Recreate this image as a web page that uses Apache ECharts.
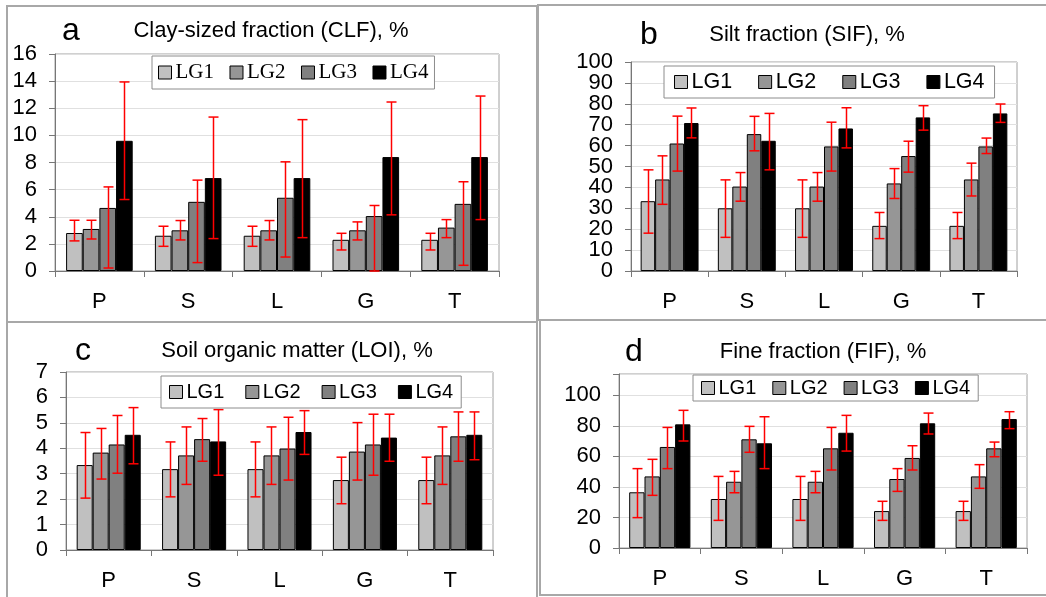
<!DOCTYPE html>
<html><head><meta charset="utf-8">
<script src="https://cdn.jsdelivr.net/npm/echarts@6/dist/echarts.min.js"></script>
<style>html,body{margin:0;padding:0;background:#fff}#c{width:1046px;height:597px}</style>
</head><body><div id="c"></div>
<script>
const categories = ['P', 'S', 'L', 'G', 'T'];
const groups = ['LG1', 'LG2', 'LG3', 'LG4'];

// a: Clay-sized fraction (CLF), %
const clfMean = [[2.8, 2.6, 2.6, 2.3, 2.3], [3.1, 3.0, 3.0, 3.0, 3.2], [4.65, 5.1, 5.4, 4.05, 4.95], [9.6, 6.85, 6.85, 8.4, 8.4]];
const clfLow  = [[2.22, 1.82, 1.82, 1.55, 1.55], [2.36, 2.29, 2.29, 2.29, 2.46], [0.22, 0.62, 1.03, 0, 0.42], [5.27, 2.39, 2.46, 4.14, 3.79]];
const clfHigh = [[3.74, 3.3, 3.3, 2.78, 2.78], [3.74, 3.72, 3.72, 3.62, 3.79], [6.2, 6.7, 8.05, 4.83, 6.58], [13.94, 11.35, 11.16, 12.46, 12.9]];
// b: Silt fraction (SIF), %
const sifMean = [[33.4, 30.0, 30.0, 21.6, 21.6], [43.8, 40.4, 40.4, 41.9, 43.8], [61.0, 65.5, 59.6, 55.0, 59.6], [70.8, 62.3, 68.2, 73.5, 75.4]];
const sifLow  = [[18.1, 16.1, 16.1, 15.5, 15.5], [31.9, 33.4, 33.4, 34.7, 35.9], [47.8, 57.5, 47.8, 47.3, 56.2], [63.7, 48.4, 58.9, 67.4, 71.1]];
const sifHigh = [[48.4, 43.6, 43.6, 28.0, 28.0], [55.1, 47.1, 47.1, 49.0, 51.6], [74.1, 74.0, 71.2, 62.1, 63.6], [78.0, 75.4, 78.1, 79.1, 79.9]];
// c: Soil organic matter (LOI), %
const loiMean = [[3.34, 3.18, 3.18, 2.75, 2.75], [3.83, 3.72, 3.72, 3.87, 3.72], [4.15, 4.36, 3.99, 4.15, 4.47], [4.53, 4.27, 4.64, 4.42, 4.53]];
const loiLow  = [[2.04, 2.09, 2.09, 1.82, 1.82], [2.79, 2.58, 2.58, 2.75, 2.58], [3.02, 3.49, 2.75, 2.94, 3.49], [3.39, 2.94, 3.76, 3.49, 3.55]];
const loiHigh = [[4.62, 4.25, 4.25, 3.65, 3.65], [4.78, 4.84, 4.84, 5.01, 4.84], [5.29, 5.17, 5.22, 5.34, 5.43], [5.6, 5.52, 5.48, 5.34, 5.43]];
// d: Fine fraction (FIF), %
const fifMean = [[36.5, 32.1, 32.1, 24.2, 24.2], [46.9, 43.4, 43.4, 45.2, 46.9], [66.2, 71.2, 65.3, 59.0, 65.3], [81.0, 68.6, 75.5, 81.7, 84.5]];
const fifLow  = [[19.9, 18.1, 18.1, 18.1, 18.1], [34.5, 36.2, 36.2, 37.1, 39.1], [52.0, 62.7, 51.1, 51.1, 59.8], [70.1, 52.0, 63.5, 74.7, 78.2]];
const fifHigh = [[52.0, 46.9, 46.9, 30.6, 30.6], [58.1, 50.2, 50.2, 52.0, 54.6], [79.0, 79.7, 79.0, 67.0, 69.4], [90.2, 86.0, 86.9, 88.4, 89.3]];

const colors = ['#c0c0c0', '#969696', '#808080', '#000000'];
const CAT_GAP = 0.25;
const FONT = 'Liberation Sans, Arial, sans-serif';

const panels = [
  {mean: clfMean, low: clfLow, high: clfHigh, grid: {left: 55, top: 54, width: 444, height: 217}, max: 16, interval: 2, split: false,
   legend: {left: 152, top: 56, padding: [6, 6], itemGap: 15.5, font: 'Liberation Serif, Times New Roman, serif', fontSize: 21}},
  {mean: sifMean, low: sifLow, high: sifHigh, grid: {left: 631, top: 62, width: 386, height: 209}, max: 100, interval: 10, split: true,
   legend: {left: 664, top: 66, padding: [5, 10], itemGap: 26, font: FONT, fontSize: 21.5}},
  {mean: loiMean, low: loiLow, high: loiHigh, grid: {left: 66, top: 372, width: 427, height: 178}, max: 7, interval: 1, split: false,
   legend: {left: 161, top: 376, padding: [6, 8], itemGap: 21, font: FONT, fontSize: 20}},
  {mean: fifMean, low: fifLow, high: fifHigh, grid: {left: 619, top: 374, width: 408, height: 174}, max: 114, interval: 20, split: false,
   legend: {left: 693, top: 375, padding: [3, 8], itemGap: 16, font: FONT, fontSize: 20}}
];

function errRender(k) {
  return function (params, api) {
    const x = api.value(0), lo = api.value(1), hi = api.value(2);
    const band = api.size([1, 0])[0];
    const bw = band * (1 - CAT_GAP) / 4;
    const off = (k - 1.5) * bw;
    const pHi = api.coord([x, hi]);
    const pLo = api.coord([x, lo]);
    const cx = Math.round(pHi[0] + off) + 0.5;
    const cap = 5;
    const st = {stroke: '#ff0000', lineWidth: 1.5};
    return {type: 'group', children: [
      {type: 'line', shape: {x1: cx, y1: pHi[1], x2: cx, y2: pLo[1]}, style: st},
      {type: 'line', shape: {x1: cx - cap, y1: pHi[1], x2: cx + cap, y2: pHi[1]}, style: st},
      {type: 'line', shape: {x1: cx - cap, y1: pLo[1], x2: cx + cap, y2: pLo[1]}, style: st}
    ]};
  };
}

const labelBase = {fontSize: 22, color: '#000', fontFamily: FONT, margin: 18, hideOverlap: false, showMinLabel: true, showMaxLabel: true};
const grids = [], xAxes = [], yAxes = [], series = [], legends = [];
panels.forEach((p, i) => {
  grids.push(Object.assign({show: true, borderColor: '#a0a0a0', borderWidth: 1, backgroundColor: 'rgba(0,0,0,0)', containLabel: false}, p.grid));
  xAxes.push({type: 'category', gridIndex: i, data: categories, boundaryGap: true,
    axisLine: {lineStyle: {color: '#777', width: 1}},
    axisTick: {show: true, length: 6, interval: 0, lineStyle: {color: '#777'}},
    axisLabel: {fontSize: 22, color: '#000', fontFamily: FONT, margin: 20, interval: 0}});
  const yIdx = yAxes.length;
  const step2 = p.interval * 2;
  yAxes.push({type: 'value', gridIndex: i, min: 0, max: p.max, interval: p.interval,
    axisLine: {show: true, lineStyle: {color: '#777', width: 1}},
    axisTick: {show: true, length: 6, lineStyle: {color: '#777'}},
    splitLine: {show: true, lineStyle: {color: '#e0e0e0', width: 1}},
    axisLabel: Object.assign({}, labelBase, {
      formatter: v => (v > 100 ? '' : (p.split && Math.round(v) % step2 !== 0 ? '' : String(v)))})});
  if (p.split) {
    // second label-only axis carrying the odd tick labels so they are not culled
    yAxes.push({type: 'value', gridIndex: i, min: p.interval, max: p.max - p.interval, interval: step2, position: 'left',
      axisLine: {show: false}, axisTick: {show: false}, splitLine: {show: false},
      axisLabel: Object.assign({}, labelBase, {formatter: v => String(v)})});
    // note: that axis spans a reduced extent, so it is mapped onto the same pixels via its own grid
  }
  groups.forEach((g, k) => {
    series.push({type: 'bar', name: g, xAxisIndex: i, yAxisIndex: yIdx, data: p.mean[k],
      barGap: '0%', barCategoryGap: (CAT_GAP * 100) + '%',
      itemStyle: {color: colors[k], borderColor: '#000', borderWidth: 1}, z: 2, silent: true});
  });
  groups.forEach((g, k) => {
    series.push({type: 'custom', name: g + ' err', xAxisIndex: i, yAxisIndex: yIdx,
      data: categories.map((c, j) => [j, p.low[k][j], p.high[k][j]]),
      encode: {x: 0, y: [1, 2]}, renderItem: errRender(k), z: 3, silent: true});
  });
  legends.push({data: groups, left: p.legend.left, top: p.legend.top, orient: 'horizontal',
    padding: p.legend.padding, itemGap: p.legend.itemGap, itemWidth: 13, itemHeight: 13,
    icon: 'rect', borderColor: '#8c8c8c', borderWidth: 1, backgroundColor: '#fff',
    itemStyle: {borderColor: '#000', borderWidth: 1},
    textStyle: {fontFamily: p.legend.font, fontSize: p.legend.fontSize, color: '#000', padding: [0, 0, 0, -1]},
    selectedMode: false, z: 10});
});

// The odd-label axis for panel b needs its own grid with the same pixel span per value:
// attach it to an invisible grid covering 10..90 of panel b.
(function () {
  const bi = 1, p = panels[bi];
  const pxPerUnit = p.grid.height / p.max;
  const extraGridIndex = grids.length;
  grids.push({left: p.grid.left, width: p.grid.width, top: p.grid.top + p.interval * pxPerUnit,
    height: (p.max - 2 * p.interval) * pxPerUnit, show: false, containLabel: false});
  xAxes.push({type: 'category', gridIndex: extraGridIndex, data: categories, show: false});
  const ax = yAxes.find(a => a.position === 'left' && a.axisLine && a.axisLine.show === false);
  ax.gridIndex = extraGridIndex;
})();

const letter = (x, y, t) => ({type: 'text', x: x, y: y, z: 20, style: {text: t, fontSize: 32, fontFamily: FONT, fill: '#000', align: 'center', verticalAlign: 'middle'}});
const title = (x, y, t) => ({type: 'text', x: x, y: y, z: 20, style: {text: t, fontSize: 22, fontFamily: FONT, fill: '#000', align: 'center', verticalAlign: 'middle'}});

const graphic = [
  {type: 'rect', shape: {x: 7, y: 6, width: 530, height: 316}, style: {fill: 'none', stroke: '#a8a8a8', lineWidth: 2}, z: 0},
  {type: 'rect', shape: {x: 538, y: 5, width: 520, height: 315}, style: {fill: 'none', stroke: '#a8a8a8', lineWidth: 2}, z: 0},
  {type: 'rect', shape: {x: 7, y: 322, width: 530, height: 290}, style: {fill: 'none', stroke: '#a8a8a8', lineWidth: 2}, z: 0},
  {type: 'rect', shape: {x: 540, y: 320, width: 520, height: 275}, style: {fill: 'none', stroke: '#a8a8a8', lineWidth: 2}, z: 0},
  letter(71, 31, 'a'), title(271, 31, 'Clay-sized fraction (CLF), %'),
  letter(649, 35, 'b'), title(807, 35, 'Silt fraction (SIF), %'),
  letter(83, 351, 'c'), title(297, 351, 'Soil organic matter (LOI), %'),
  letter(634, 352, 'd'), title(823, 352, 'Fine fraction (FIF), %')
];

const chart = echarts.init(document.getElementById('c'), null, {renderer: 'canvas'});
chart.setOption({
  animation: false,
  backgroundColor: '#fff',
  grid: grids, xAxis: xAxes, yAxis: yAxes, series: series, legend: legends, graphic: graphic
});
</script></body></html>
